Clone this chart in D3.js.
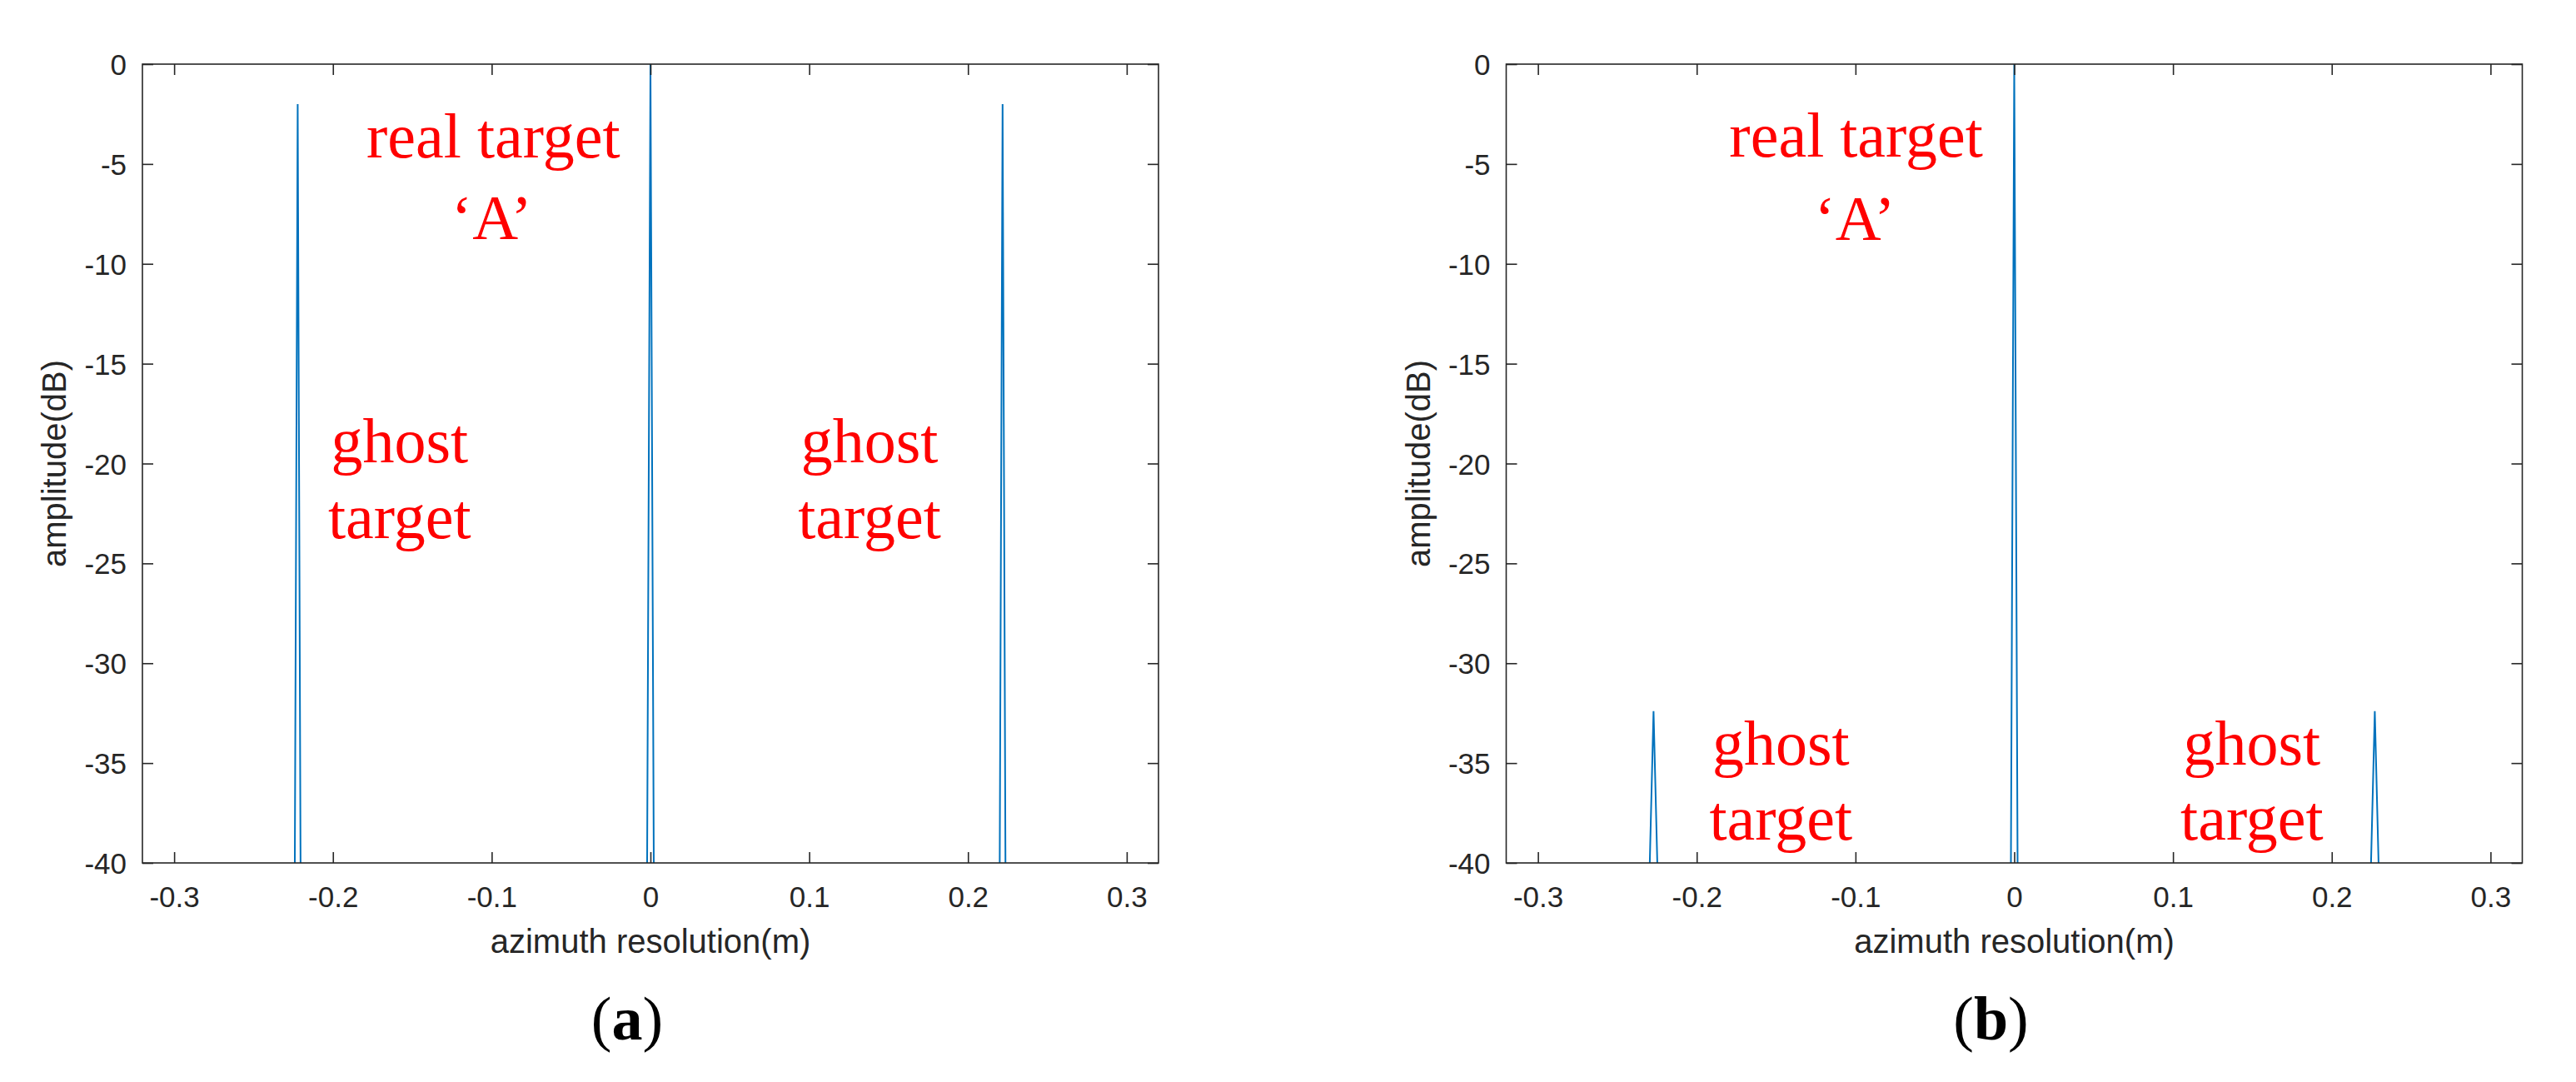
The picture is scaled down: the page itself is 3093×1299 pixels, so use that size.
<!DOCTYPE html>
<html>
<head>
<meta charset="utf-8">
<script src="https://cdn.jsdelivr.net/npm/d3@7"></script>
<style>
    body { margin: 0; background: #fff; }
    svg { display: block; }
</style>
</head>
<body>
<svg id="chart"></svg>
<script>
// axis ticks (same for both panels)
const xTicks = [-0.3, -0.2, -0.1, 0, 0.1, 0.2, 0.3];
const xTickLabels = ["-0.3", "-0.2", "-0.1", "0", "0.1", "0.2", "0.3"];
const yTicks = [-40, -35, -30, -25, -20, -15, -10, -5, 0];
const yTickLabels = ["-40", "-35", "-30", "-25", "-20", "-15", "-10", "-5", "0"];

// panel (a): azimuth position (m) and amplitude (dB), points below -40 are clipped
const profileA_x = [-0.32, -0.2241, -0.2222, -0.2203, -0.0022, 0, 0.0022, 0.2199, 0.2218, 0.2237, 0.32];
const profileA_db = [-80, -42, -2, -42, -42, 0, -42, -42, -2, -42, -80];

// panel (b)
const profileB_x = [-0.32, -0.2302, -0.2272, -0.2242, -0.0022, 0, 0.0022, 0.2241, 0.2271, 0.2301, 0.32];
const profileB_db = [-80, -42, -32.4, -42, -42, 0, -42, -42, -32.4, -42, -80];

// red annotations, anchored in data units
const noteText = ["real target", "\u2018A\u2019", "ghost", "target", "ghost", "target"];
const noteA_x = [-0.099, -0.1, -0.158, -0.158, 0.138, 0.138];
const noteA_db = [-4.67, -8.74, -19.94, -23.73, -19.94, -23.73];
const noteB_x = [-0.0996, -0.1004, -0.147, -0.147, 0.1497, 0.1497];
const noteB_db = [-4.62, -8.8, -35.08, -38.85, -35.08, -38.85];

const captions = ["a", "b"];

const totalW = 3093, totalH = 1299;
const plotW = 1220, plotH = 959;
const panelLeft = [171, 1808.5];
const panelTop = 77;
const axisColor = "#262626";

const svg = d3.select("#chart")
    .attr("width", totalW)
    .attr("height", totalH);

const panels = [
    { xs: profileA_x, ys: profileA_db, nx: noteA_x, ny: noteA_db },
    { xs: profileB_x, ys: profileB_db, nx: noteB_x, ny: noteB_db }
];

panels.forEach((p, i) => {
    const g = svg.append("g")
        .attr("transform", `translate(${panelLeft[i]},${panelTop})`);

    const xScale = d3.scaleLinear().domain([-0.32, 0.32]).range([0, plotW]);
    const yScale = d3.scaleLinear().domain([-40, 0]).range([plotH, 0]);

    // clip so the curve stops at the -40 dB floor
    svg.append("defs").append("clipPath")
        .attr("id", "clip" + i)
        .append("rect")
        .attr("width", plotW)
        .attr("height", plotH);

    const pts = p.xs.map((x, k) => ({ x: x, y: p.ys[k] }));
    const line = d3.line()
        .x(d => xScale(d.x))
        .y(d => yScale(d.y));

    g.append("path")
        .datum(pts)
        .attr("clip-path", `url(#clip${i})`)
        .attr("d", line)
        .attr("fill", "none")
        .attr("stroke", "#0072BD")
        .attr("stroke-width", 2);

    // axes with inward ticks on all four sides
    const fmtX = d => xTickLabels[xTicks.indexOf(d)];
    const fmtY = d => yTickLabels[yTicks.indexOf(d)];

    const bottom = g.append("g")
        .attr("transform", `translate(0,${plotH})`)
        .call(d3.axisBottom(xScale).tickValues(xTicks).tickFormat(fmtX).tickSize(-13).tickSizeOuter(0));
    bottom.selectAll("text").attr("y", 53).attr("dy", null);

    const top = g.append("g")
        .call(d3.axisTop(xScale).tickValues(xTicks).tickFormat("").tickSize(-13).tickSizeOuter(0));

    const left = g.append("g")
        .call(d3.axisLeft(yScale).tickValues(yTicks).tickFormat(fmtY).tickSize(-13).tickSizeOuter(0));
    left.selectAll("text").attr("x", -19).attr("dy", "0.36em");

    const right = g.append("g")
        .attr("transform", `translate(${plotW},0)`)
        .call(d3.axisRight(yScale).tickValues(yTicks).tickFormat("").tickSize(-13).tickSizeOuter(0));

    [bottom, top, left, right].forEach(a => {
        a.select(".domain").remove();
        a.selectAll("line").attr("stroke", axisColor).attr("stroke-width", 1.6);
        a.selectAll("text")
            .attr("fill", axisColor)
            .style("font-family", "'Liberation Sans', Arial, sans-serif")
            .style("font-size", "35px");
    });

    g.append("rect")
        .attr("width", plotW)
        .attr("height", plotH)
        .attr("fill", "none")
        .attr("stroke", axisColor)
        .attr("stroke-width", 1.6);

    // axis titles
    g.append("text")
        .attr("x", plotW / 2)
        .attr("y", 1144 - panelTop)
        .attr("text-anchor", "middle")
        .attr("fill", axisColor)
        .style("font-family", "'Liberation Sans', Arial, sans-serif")
        .style("font-size", "40px")
        .text("azimuth resolution(m)");

    g.append("text")
        .attr("transform", `translate(-92,${plotH / 2}) rotate(-90)`)
        .attr("text-anchor", "middle")
        .attr("fill", axisColor)
        .style("font-family", "'Liberation Sans', Arial, sans-serif")
        .style("font-size", "40px")
        .text("amplitude(dB)");

    // red notes
    g.selectAll(".note")
        .data(noteText)
        .join("text")
        .attr("class", "note")
        .attr("x", (d, k) => xScale(p.nx[k]))
        .attr("y", (d, k) => yScale(p.ny[k]))
        .attr("text-anchor", "middle")
        .attr("fill", "#ff0000")
        .style("font-family", "'Liberation Serif', 'Times New Roman', serif")
        .style("font-size", "76px")
        .text(d => d);

    // panel caption like (a)
    const cap = svg.append("text")
        .attr("x", panelLeft[i] + plotW / 2 - 28)
        .attr("y", 1248)
        .attr("text-anchor", "middle")
        .attr("fill", "#000")
        .style("font-family", "'Liberation Serif', 'Times New Roman', serif")
        .style("font-size", "74px");
    cap.append("tspan").text("(");
    cap.append("tspan").style("font-weight", "bold").text(captions[i]);
    cap.append("tspan").text(")");
});
</script>
</body>
</html>
